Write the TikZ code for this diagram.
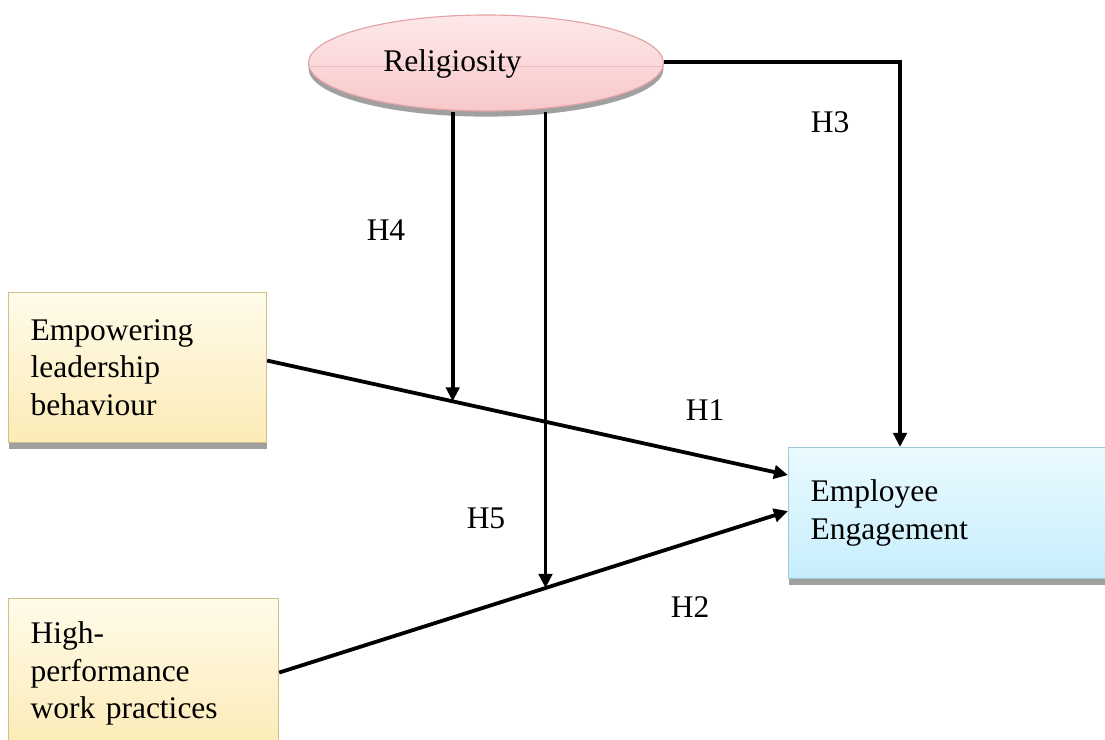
\documentclass[tikz,border=0pt]{standalone}
\usepackage{fontspec}
\setmainfont{Liberation Serif}
\usetikzlibrary{calc,arrows.meta,shadows,shapes.geometric}
\definecolor{ylTop}{HTML}{FFFBEA}
\definecolor{ylBot}{HTML}{FCEBB6}
\definecolor{ylEdge}{HTML}{CFC08A}
\definecolor{blTop}{HTML}{EAFAFF}
\definecolor{blBot}{HTML}{C7EEFC}
\definecolor{blEdge}{HTML}{9DCAD8}
\definecolor{pkTop}{HTML}{FDE8E9}
\definecolor{pkBot}{HTML}{F8C8CA}
\definecolor{pkEdge}{HTML}{E3A2A6}
\definecolor{shd}{HTML}{A0A0A0}
\tikzset{
  txt/.style={font=\fontsize{22.4}{26.6}\selectfont},
  boxshadow/.style={drop shadow={shadow xshift=0pt,shadow yshift=-4.5pt,fill=shd,opacity=1}},
  srcbox/.style={txt,draw=ylEdge,line width=0.8pt,top color=ylTop,bottom color=ylBot,
    boxshadow,align=left,anchor=north west,inner xsep=22*0.025cm,inner ysep=0pt},
  tgtbox/.style={txt,draw=blEdge,line width=0.8pt,top color=blTop,bottom color=blBot,
    boxshadow,align=left,anchor=north west,inner xsep=22*0.025cm,inner ysep=0pt},
  modell/.style={txt,ellipse,draw=pkEdge,line width=0.8pt,top color=pkTop,bottom color=pkBot,
    drop shadow={shadow xshift=0pt,shadow yshift=-4pt,fill=shd,opacity=1},inner sep=0pt},
  link/.style={line width=2.7pt,-{Triangle[length=10pt,width=9.5pt]}},
  hlabel/.style={txt,inner sep=0pt}
}
\begin{document}
\begin{tikzpicture}[x=0.025cm,y=-0.025cm]
  \useasboundingbox (0,0) rectangle (1105,740);
  \clip (0,0) rectangle (1105,740);

  % construct nodes
  \node[modell,minimum width=355*0.025cm,minimum height=96*0.025cm] (rel) at (486,63) {};
  \draw[pkEdge!70,line width=0.6pt] ($(rel.west)+(0,3)$) -- ($(rel.east)+(0,3)$);
  \node[txt,anchor=west,inner sep=0pt] (relt) at (383,64) {Religiosity};

  \node[srcbox,minimum width=258*0.025cm,minimum height=150*0.025cm,text width=214*0.025cm] (elb) at (8,292)
    {Empowering\\leadership\\behaviour};
  \node[srcbox,minimum width=270*0.025cm,minimum height=150*0.025cm,text width=226*0.025cm] (hpwp) at (8,598)
    {High-\\performance\\work practices};
  \node[tgtbox,minimum width=322*0.025cm,minimum height=131*0.025cm,text width=278*0.025cm] (ee) at (788,447)
    {Employee\\Engagement};

  % end points on the boxes
  \coordinate (s1) at ($(elb.east)+(0,-7)$);
  \coordinate (t1) at ($(ee.west)+(0,-38)$);
  \coordinate (s2) at ($(hpwp.east)+(0,-1)$);
  \coordinate (t2) at ($(ee.west)+(0,-2)$);

  % direct effects
  \draw[link] (s1) -- (t1);
  \draw[link] (s2) -- (t2);

  % moderation junctions on the direct paths
  \coordinate (j4) at ($(s1)!0.3563!(t1)$);
  \coordinate (j5) at ($(s2)!0.5235!(t2)$);
  \draw[link] (j4 |- 0,112) -- (j4);
  \draw[link] (j5 |- 0,112) -- (j5);

  % direct effect of religiosity
  \coordinate (k3) at (900,62);
  \draw[link] (rel.east |- k3) -- (k3) -- (k3 |- ee.north);

  % hypothesis labels
  \node[hlabel] (h3) at (830,122) {H3};
  \node[hlabel] (h4) at (386,230) {H4};
  \node[hlabel] (h1) at (705,410) {H1};
  \node[hlabel] (h5) at (486,518) {H5};
  \node[hlabel] (h2) at (690,607) {H2};
\end{tikzpicture}
\end{document}
